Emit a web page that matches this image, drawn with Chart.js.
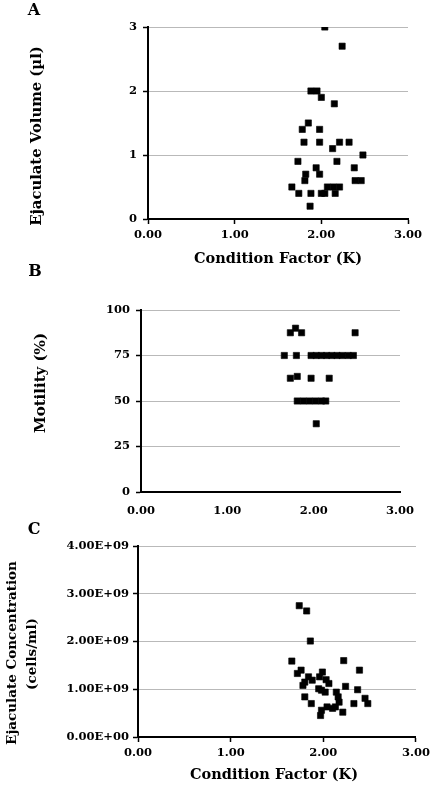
<!DOCTYPE html>
<html>
<head>
<meta charset="utf-8">
<script src="https://cdn.jsdelivr.net/npm/chart.js@4.4.1/dist/chart.umd.min.js"></script>
<style>
  html, body { margin: 0; padding: 0; background: #fff; }
  #wrap { position: relative; width: 434px; height: 785px; overflow: hidden; }
  canvas { position: absolute; left: 0; top: 0; }
</style>
</head>
<body>
<div id="wrap">
  <canvas id="cA" width="434" height="785"></canvas>
  <canvas id="cB" width="434" height="785"></canvas>
  <canvas id="cC" width="434" height="785"></canvas>
</div>
<script>
// ---------- Data ----------
const xTicks = [0, 1, 2, 3];

// Panel A: Ejaculate volume (µl) vs condition factor K
const volK = [2.04, 2.24, 1.88, 1.95, 2.00, 2.15, 1.85, 1.78, 1.98, 1.80, 1.98, 2.21, 2.32, 2.13, 2.48,
              1.73, 2.18, 1.94, 2.38, 1.82, 1.98, 1.81, 2.39, 2.46, 1.66, 2.07, 2.14, 2.21, 1.74, 1.88,
              2.00, 2.04, 2.16, 1.87];
const volume = [3.0, 2.7, 2.0, 2.0, 1.9, 1.8, 1.5, 1.4, 1.4, 1.2, 1.2, 1.2, 1.2, 1.1, 1.0,
                0.9, 0.9, 0.8, 0.8, 0.7, 0.7, 0.6, 0.6, 0.6, 0.5, 0.5, 0.5, 0.5, 0.4, 0.4,
                0.4, 0.4, 0.4, 0.2];
const volTicks = [0, 1, 2, 3];

// Panel B: Motility (%) vs condition factor K
const motK = [1.73, 1.79, 1.86, 2.48,
              1.66, 1.80, 1.97, 2.03, 2.09, 2.15, 2.21, 2.27, 2.33, 2.40, 2.46,
              1.73, 1.81, 1.97, 2.18,
              1.81, 1.88, 1.95, 2.02, 2.09, 2.14,
              2.03];
const motility = [87.5, 90, 87.5, 87.5,
                  75, 75, 75, 75, 75, 75, 75, 75, 75, 75, 75,
                  62.5, 63.5, 62.5, 62.5,
                  50, 50, 50, 50, 50, 50,
                  37.5];
const motTicks = [0, 25, 50, 75, 100];

// Panel C: Ejaculate concentration (cells/ml) vs condition factor K
const concK = [1.74, 1.82, 1.86, 1.66, 2.22, 2.39, 1.76, 1.72, 1.99, 1.84, 1.96, 1.80, 2.03, 1.88,
               1.78, 2.06, 1.95, 2.24, 2.02, 2.14, 2.37, 1.98, 1.80, 2.16, 2.45, 1.87, 2.17, 2.33,
               2.48, 2.04, 2.13, 1.98, 2.21, 1.97, 2.10];
const concentration = [2.75e9, 2.64e9, 2.01e9, 1.59e9, 1.60e9, 1.40e9, 1.40e9, 1.33e9, 1.36e9, 1.26e9,
                       1.26e9, 1.15e9, 1.20e9, 1.19e9, 1.08e9, 1.12e9, 1.01e9, 1.06e9, 0.94e9, 0.94e9,
                       0.99e9, 0.98e9, 0.84e9, 0.84e9, 0.81e9, 0.70e9, 0.73e9, 0.70e9, 0.70e9, 0.63e9,
                       0.63e9, 0.56e9, 0.52e9, 0.45e9, 0.60e9];
const concTicks = [0, 1e9, 2e9, 3e9, 4e9];

// ---------- Helpers ----------
const W = 434, H = 785;
const FONT = '"DejaVu Serif", "Liberation Serif", serif';
const GRID = '#b9b9b9';

function pts(xs, ys) { return xs.map((x, i) => ({ x: x, y: ys[i] })); }

function textPlugin(items) {
  return {
    id: 'texts',
    afterDraw(chart) {
      const ctx = chart.ctx;
      ctx.save();
      ctx.fillStyle = '#000';
      ctx.textAlign = 'center';
      ctx.textBaseline = 'middle';
      items.forEach(t => {
        ctx.save();
        ctx.font = 'bold ' + t.size + 'px ' + FONT;
        ctx.translate(t.x, t.y);
        if (t.rot) ctx.rotate(-Math.PI / 2);
        ctx.fillText(t.text, 0, 0);
        ctx.restore();
      });
      ctx.restore();
    }
  };
}

function makeChart(id, cfg) {
  const area = cfg.area; // {l, t, r, b}
  return new Chart(document.getElementById(id), {
    type: 'scatter',
    data: {
      datasets: [{
        data: pts(cfg.xs, cfg.ys),
        pointStyle: 'rect',
        pointRadius: 4.4,
        pointHoverRadius: 4.4,
        backgroundColor: '#000',
        borderColor: '#000',
        borderWidth: 0.6
      }]
    },
    options: {
      responsive: false,
      animation: false,
      events: [],
      layout: { padding: { top: area.t, right: W - area.r, bottom: 0, left: 0 }, autoPadding: false },
      plugins: { legend: { display: false }, tooltip: { enabled: false } },
      scales: {
        x: {
          type: 'linear',
          min: 0, max: 3,
          afterBuildTicks(s) { s.ticks = xTicks.map(v => ({ value: v })); },
          afterFit(s) { s.height = H - area.b; },
          ticks: {
            color: '#000',
            font: { family: FONT, weight: 'bold', size: 11.5 },
            padding: cfg.xPad,
            maxRotation: 0,
            callback: v => Number(v).toFixed(2)
          },
          grid: { drawOnChartArea: false, tickLength: 5, tickColor: cfg.xTickColor, tickWidth: 1.5 },
          border: { color: '#000', width: 2 }
        },
        y: {
          type: 'linear',
          min: cfg.yTicks[0], max: cfg.yTicks[cfg.yTicks.length - 1],
          afterBuildTicks(s) { s.ticks = cfg.yTicks.map(v => ({ value: v })); },
          afterFit(s) { s.width = area.l; },
          ticks: {
            color: '#000',
            font: { family: FONT, weight: 'bold', size: 11.5 },
            padding: cfg.yPad,
            callback: cfg.yFmt
          },
          grid: { color: GRID, lineWidth: 1, tickLength: 5, tickColor: '#000', tickWidth: 1.5 },
          border: { color: '#000', width: 2 }
        }
      }
    },
    plugins: [textPlugin(cfg.texts)]
  });
}

// ---------- Panel A ----------
makeChart('cA', {
  xs: volK, ys: volume, yTicks: volTicks,
  area: { l: 148, t: 27, r: 408, b: 219 },
  xPad: 4, yPad: 6, xTickColor: '#000',
  yFmt: v => String(v),
  texts: [
    { text: 'A', x: 34, y: 11, size: 16 },
    { text: 'Ejaculate Volume (µl)', x: 37, y: 136, size: 14.8, rot: true },
    { text: 'Condition Factor (K)', x: 278, y: 259, size: 14.5 }
  ]
});

// ---------- Panel B ----------
makeChart('cB', {
  xs: motK, ys: motility, yTicks: motTicks,
  area: { l: 141, t: 310, r: 400, b: 492 },
  xPad: 7, yPad: 6, xTickColor: 'rgba(0,0,0,0)',
  yFmt: v => String(v),
  texts: [
    { text: 'B', x: 35, y: 272, size: 16 },
    { text: 'Motility (%)', x: 41, y: 383, size: 15, rot: true }
  ]
});

// ---------- Panel C ----------
makeChart('cC', {
  xs: concK, ys: concentration, yTicks: concTicks,
  area: { l: 138, t: 546, r: 416, b: 737 },
  xPad: 4, yPad: 4, xTickColor: '#000',
  yFmt: v => (v === 0 ? '0.00E+00' : (v / 1e9).toFixed(2) + 'E+09'),
  texts: [
    { text: 'C', x: 34, y: 530, size: 16 },
    { text: 'Ejaculate Concentration', x: 12, y: 653, size: 13.5, rot: true },
    { text: '(cells/ml)', x: 32, y: 654, size: 13.5, rot: true },
    { text: 'Condition Factor (K)', x: 274, y: 775, size: 14.5 }
  ]
});
</script>
</body>
</html>
